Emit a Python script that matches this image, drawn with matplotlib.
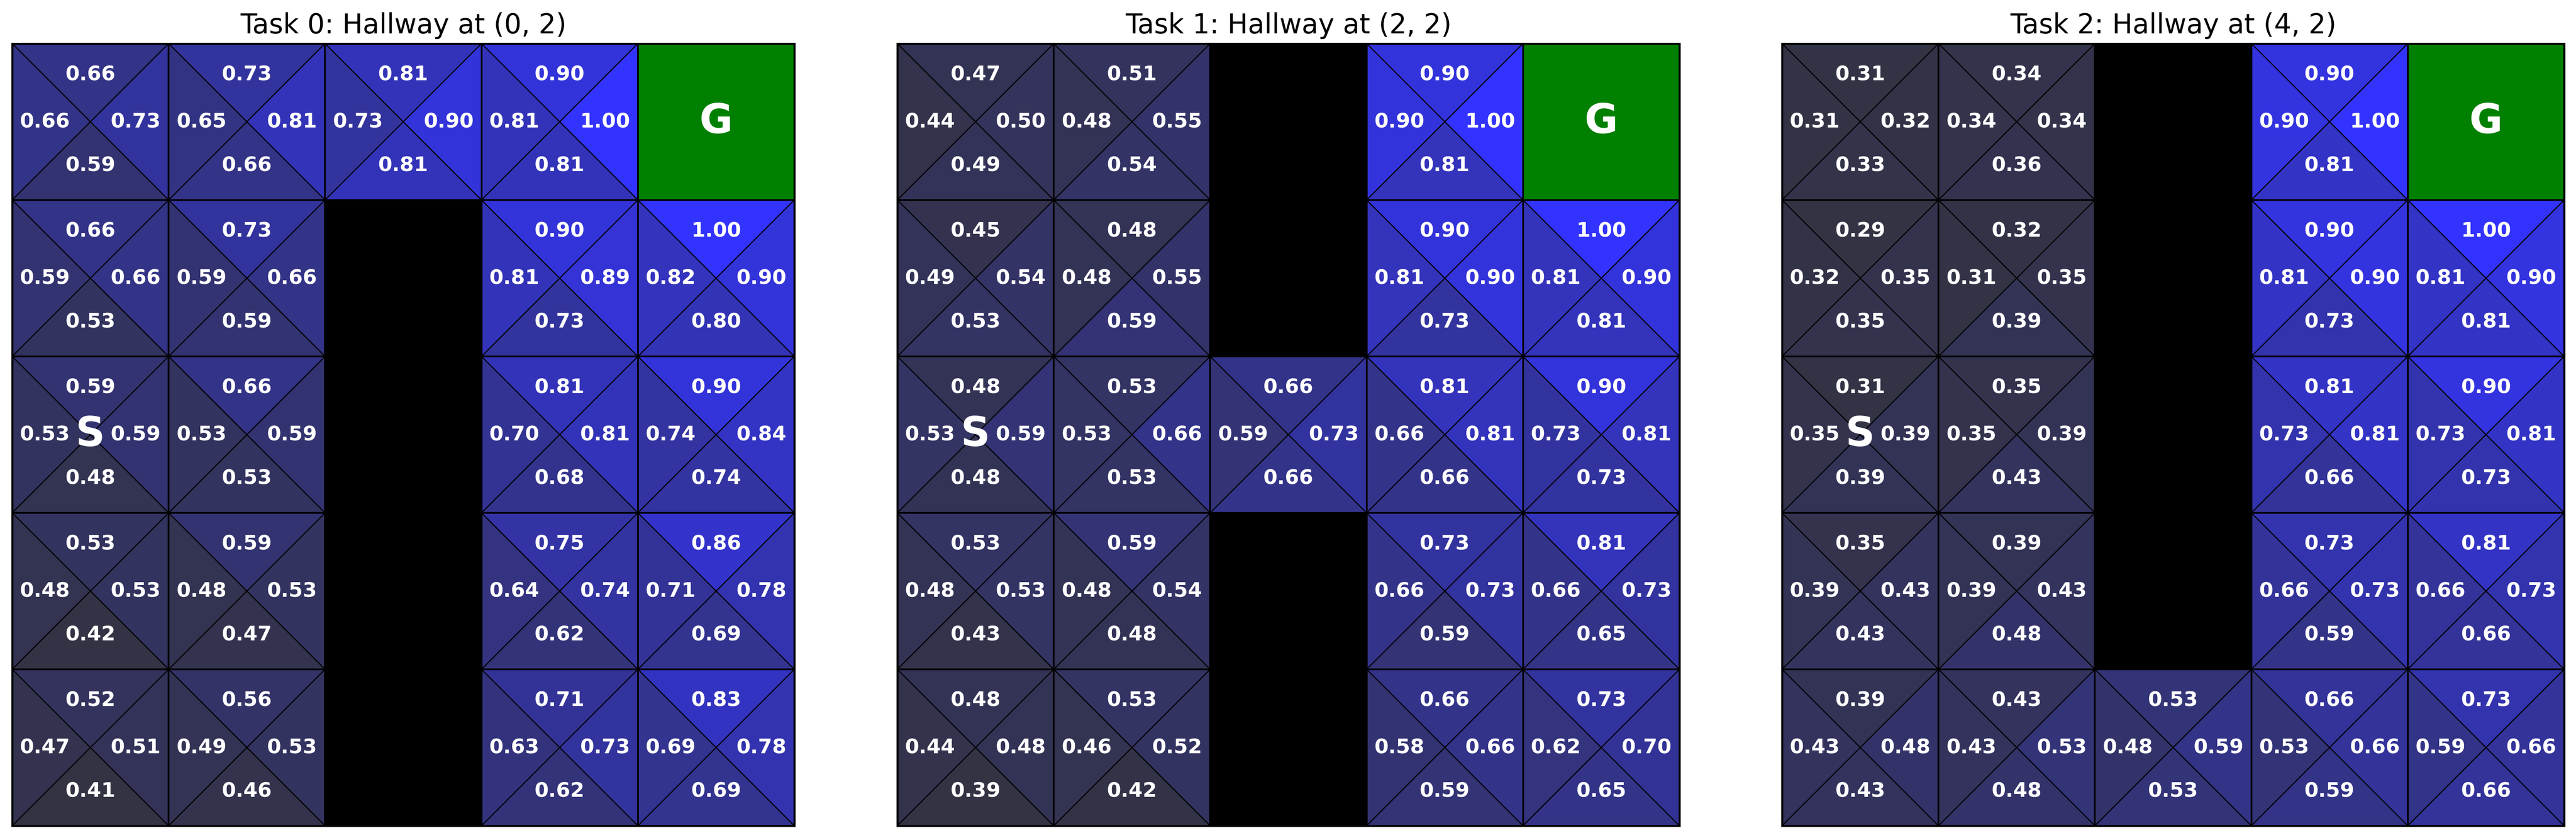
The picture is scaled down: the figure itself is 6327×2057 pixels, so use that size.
import numpy as np
import matplotlib
matplotlib.use("Agg")
import matplotlib.pyplot as plt
from matplotlib.patches import Polygon, Rectangle
from matplotlib.colors import LinearSegmentedColormap, PowerNorm

N = np.nan
titles = ["Task 0: Hallway at (0, 2)", "Task 1: Hallway at (2, 2)", "Task 2: Hallway at (4, 2)"]
start_cell = (2, 0)
goal_cell = (0, 4)
walls_task0 = [(1, 2), (2, 2), (3, 2), (4, 2)]
walls_task1 = [(0, 2), (1, 2), (3, 2), (4, 2)]
walls_task2 = [(0, 2), (1, 2), (2, 2), (3, 2)]

# Q-values per cell (rows top->bottom, cols left->right); nan = wall/goal
up_task0 = [[.66, .73, .81, .90, N], [.66, .73, N, .90, 1.00], [.59, .66, N, .81, .90],
            [.53, .59, N, .75, .86], [.52, .56, N, .71, .83]]
left_task0 = [[.66, .65, .73, .81, N], [.59, .59, N, .81, .82], [.53, .53, N, .70, .74],
              [.48, .48, N, .64, .71], [.47, .49, N, .63, .69]]
right_task0 = [[.73, .81, .90, 1.00, N], [.66, .66, N, .89, .90], [.59, .59, N, .81, .84],
               [.53, .53, N, .74, .78], [.51, .53, N, .73, .78]]
down_task0 = [[.59, .66, .81, .81, N], [.53, .59, N, .73, .80], [.48, .53, N, .68, .74],
              [.42, .47, N, .62, .69], [.41, .46, N, .62, .69]]

up_task1 = [[.47, .51, N, .90, N], [.45, .48, N, .90, 1.00], [.48, .53, .66, .81, .90],
            [.53, .59, N, .73, .81], [.48, .53, N, .66, .73]]
left_task1 = [[.44, .48, N, .90, N], [.49, .48, N, .81, .81], [.53, .53, .59, .66, .73],
              [.48, .48, N, .66, .66], [.44, .46, N, .58, .62]]
right_task1 = [[.50, .55, N, 1.00, N], [.54, .55, N, .90, .90], [.59, .66, .73, .81, .81],
               [.53, .54, N, .73, .73], [.48, .52, N, .66, .70]]
down_task1 = [[.49, .54, N, .81, N], [.53, .59, N, .73, .81], [.48, .53, .66, .66, .73],
              [.43, .48, N, .59, .65], [.39, .42, N, .59, .65]]

up_task2 = [[.31, .34, N, .90, N], [.29, .32, N, .90, 1.00], [.31, .35, N, .81, .90],
            [.35, .39, N, .73, .81], [.39, .43, .53, .66, .73]]
left_task2 = [[.31, .34, N, .90, N], [.32, .31, N, .81, .81], [.35, .35, N, .73, .73],
              [.39, .39, N, .66, .66], [.43, .43, .48, .53, .59]]
right_task2 = [[.32, .34, N, 1.00, N], [.35, .35, N, .90, .90], [.39, .39, N, .81, .81],
               [.43, .43, N, .73, .73], [.48, .53, .59, .66, .66]]
down_task2 = [[.33, .36, N, .81, N], [.35, .39, N, .73, .81], [.39, .43, N, .66, .73],
              [.43, .48, N, .59, .66], [.43, .48, .53, .59, .66]]

tasks = [
    (up_task0, left_task0, right_task0, down_task0, walls_task0),
    (up_task1, left_task1, right_task1, down_task1, walls_task1),
    (up_task2, left_task2, right_task2, down_task2, walls_task2),
]

cmap = LinearSegmentedColormap.from_list("q", ["#333344", "#3333ff"])

W, H = 6327, 2057
fig = plt.figure(figsize=(W / 300, H / 300), dpi=300)
lefts = [30, 2204, 4377]
aw, ah = 1921, 1920
bottom = 30

for ti, (up, left, right, down, walls) in enumerate(tasks):
    ax = fig.add_axes([lefts[ti] / W, bottom / H, aw / W, ah / H])
    arrs = [np.array(a, dtype=float) for a in (up, left, right, down)]
    allv = np.concatenate([a[~np.isnan(a)] for a in arrs])
    norm = PowerNorm(gamma=1.2, vmin=allv.min(), vmax=allv.max())
    for r in range(5):
        for c in range(5):
            x0, y0 = c, r
            if (r, c) in walls:
                ax.add_patch(Rectangle((x0, y0), 1, 1, facecolor="black", edgecolor="black", lw=1.0))
                continue
            if (r, c) == goal_cell:
                ax.add_patch(Rectangle((x0, y0), 1, 1, facecolor="#008000", edgecolor="black", lw=1.0))
                ax.text(x0 + 0.5, y0 + 0.5, "G", color="white", fontsize=24, fontweight="bold",
                        ha="center", va="center")
                continue
            cx, cy = x0 + 0.5, y0 + 0.5
            tris = {
                0: [(x0, y0), (x0 + 1, y0), (cx, cy)],          # up
                1: [(x0, y0), (x0, y0 + 1), (cx, cy)],          # left
                2: [(x0 + 1, y0), (x0 + 1, y0 + 1), (cx, cy)],  # right
                3: [(x0, y0 + 1), (x0 + 1, y0 + 1), (cx, cy)],  # down
            }
            tpos = {0: (cx, y0 + 0.2), 1: (x0 + 0.21, cy), 2: (x0 + 0.79, cy), 3: (cx, y0 + 0.78)}
            for k in range(4):
                v = arrs[k][r, c]
                ax.add_patch(Polygon(tris[k], closed=True, facecolor=cmap(norm(v)),
                                     edgecolor="black", lw=0.6))
                ax.text(tpos[k][0], tpos[k][1], f"{v:.2f}", color="white", fontsize=12,
                        fontweight="bold", ha="center", va="center")
            ax.add_patch(Rectangle((x0, y0), 1, 1, fill=False, edgecolor="black", lw=1.0))
            if (r, c) == start_cell:
                ax.text(cx, cy, "S", color="white", fontsize=24, fontweight="bold",
                        ha="center", va="center")
    ax.set_xlim(0, 5)
    ax.set_ylim(5, 0)
    ax.set_xticks([])
    ax.set_yticks([])
    for s in ax.spines.values():
        s.set_linewidth(1.2)
    ax.set_title(titles[ti], fontsize=16)

fig.savefig("out.png", dpi=300)
